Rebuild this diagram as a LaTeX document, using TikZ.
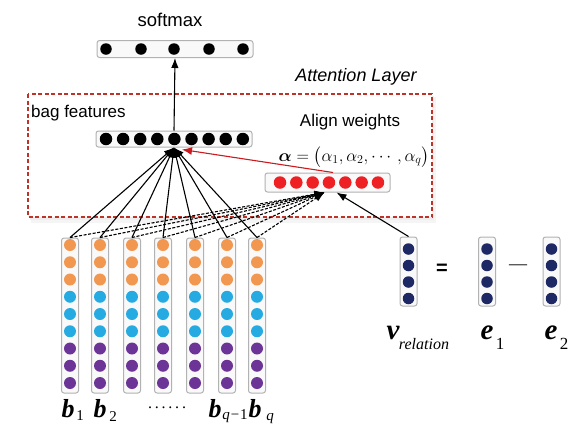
\documentclass[tikz,border=0pt]{standalone}
\usepackage{fontspec}
\setmainfont{Liberation Serif}
\setsansfont{Liberation Sans}
\usepackage{amsmath}
\usetikzlibrary{arrows.meta}
\definecolor{dotorange}{RGB}{241,151,80}
\definecolor{dotblue}{RGB}{38,170,226}
\definecolor{dotpurple}{RGB}{108,52,150}
\definecolor{dotnavy}{RGB}{30,40,100}
\definecolor{dotred}{RGB}{238,32,36}
\definecolor{framered}{RGB}{190,50,40}
\begin{document}
\begin{tikzpicture}[x=1pt,y=-1pt,
  box/.style={draw=gray!60, fill=gray!5, rounded corners=2.5pt, line width=1pt, inner sep=0pt},
  dot/.style={circle, fill=#1, inner sep=0pt, minimum size=12pt},
  conn/.style={line width=1.1pt, -{Latex[length=10pt,width=7.5pt]}},
  dconn/.style={conn, dash pattern=on 3pt off 1.6pt},
  sanslbl/.style={font=\sffamily\fontsize{17}{19}\selectfont, inner sep=0pt},
  biglbl/.style={font=\fontsize{26}{26}\selectfont\bfseries\itshape, inner sep=0pt},
  sublbl/.style={font=\fontsize{15}{16}\selectfont, inner sep=0pt}
]
\useasboundingbox (0,0) rectangle (587,429);
% attention frame with soft shadow
\fill[gray!8] (31,97) rectangle (436,223);
\fill[gray!13] (30,96) rectangle (434,220);
\fill[white] (28,94) rectangle (432,217);
\draw[framered, line width=1.2pt, dash pattern=on 4pt off 2.5pt] (28,94) rectangle (432,217);
\node[font=\sffamily\itshape\fontsize{18}{20}\selectfont, inner sep=0pt] (attlbl) at (356,77) {Attention Layer};

% softmax
\node[sanslbl, font=\sffamily\fontsize{18.5}{20}\selectfont] (smlbl) at (170,20) {softmax};
\node[box, minimum width=156pt, minimum height=17pt] (smbox) at (175,49) {};
\foreach \x [count=\i] in {106,141,174,209,243} \node[dot=black, minimum size=11.5pt] (sm\i) at (\x,49) {};

% bag features
\node[sanslbl, anchor=west] (bflbl) at (31,113) {bag features};
\node[box, minimum width=156pt, minimum height=16pt] (bagbox) at (174,139) {};
\foreach \i in {0,...,8} \node[dot=black, minimum size=12.5pt] (bf\i) at (106+17.1*\i,139) {};

% align weights
\node[sanslbl] (awlbl) at (350,122) {Align weights};
\node[inner sep=0pt, font=\fontsize{17}{17}\selectfont] (alpha) at (354,157)
  {$\boldsymbol{\alpha}=\bigl(\alpha_1,\alpha_2,\cdots,\alpha_q\bigr)$};
\node[box, minimum width=125pt, minimum height=19pt] (redbox) at (327.5,182.5) {};
\foreach \i in {0,...,6} \node[dot=dotred, minimum size=12.5pt] (rd\i) at (280+16.33*\i,182.5) {};

% bag columns
\foreach \x [count=\i] in {70,100,132,163,195,227,257} {
  \node[box, minimum width=17pt, minimum height=155pt] (c\i) at (\x,315.5) {};
  \foreach \k/\col in {0/dotorange,1/dotorange,2/dotorange,3/dotblue,4/dotblue,5/dotblue,6/dotpurple,7/dotpurple,8/dotpurple}
    \node[dot=\col] (c\i d\k) at (\x,245+17.25*\k) {};
}

% connectors
\foreach \i in {1,...,7} {
  \draw[dconn] (c\i.north) -- ([xshift=-3pt]redbox.south);
}
\foreach \i in {1,...,7} {
  \draw[conn] (c\i.north) -- (bagbox.south);
}
\draw[conn] (bagbox.north) -- (smbox.south);
\draw[conn, dotred!85!black, -{Latex[length=10pt,width=8pt]}] ([xshift=5.5pt]redbox.north) -- ([xshift=8pt,yshift=-2pt]bagbox.south);

% relation vectors
\foreach \n/\x in {vrel/408.5,e1/487,e2/551.5} {
  \node[box, minimum width=17pt, minimum height=69pt] (\n) at (\x,271.5) {};
  \foreach \k in {0,...,3} \node[dot=dotnavy, minimum size=11.5pt] (\n d\k) at (\x,249+16.5*\k) {};
}
\draw[conn] (vrel.north) -- ([xshift=9pt]redbox.south);
\node[inner sep=0pt, font=\sffamily\bfseries\fontsize{20}{20}\selectfont] (eq) at (442,269) {=};
\node[inner sep=0pt, font=\fontsize{18}{18}\selectfont] (minus) at (518,267) {---};

% labels
\node[biglbl] (lb1) at (68,409) {b};
\node[sublbl] (lb1s) at (80,416) {1};
\node[biglbl] (lb2) at (100,409) {b};
\node[sublbl] (lb2s) at (113,417) {2};
\node[inner sep=0pt, font=\fontsize{16}{16}\selectfont] (ldots) at (167,408) {.\hspace{2.8pt}.\hspace{2.8pt}.\hspace{2.8pt}.\hspace{2.8pt}.\hspace{2.8pt}.};
\node[biglbl] (lbq1) at (215,409) {b};
\node[sublbl, font=\fontsize{15}{16}\selectfont\itshape] (lbq1s) at (235,416) {q\/\textminus\upshape 1};
\node[biglbl] (lbq) at (255,409) {b};
\node[sublbl, font=\fontsize{15}{16}\selectfont\itshape] (lbqs) at (270,419) {q};
\node[biglbl, font=\fontsize{29}{29}\selectfont\bfseries\itshape] (lv) at (393,333) {v};
\node[sublbl, font=\fontsize{16}{16}\selectfont\itshape] (lvs) at (424,344) {relation};
\node[biglbl, font=\fontsize{29}{29}\selectfont\bfseries\itshape] (le1) at (487,333) {e};
\node[sublbl, font=\fontsize{17}{17}\selectfont] (le1s) at (500,344) {1};
\node[biglbl, font=\fontsize{29}{29}\selectfont\bfseries\itshape] (le2) at (551,333) {e};
\node[sublbl, font=\fontsize{17}{17}\selectfont] (le2s) at (564,344) {2};
\end{tikzpicture}
\end{document}
